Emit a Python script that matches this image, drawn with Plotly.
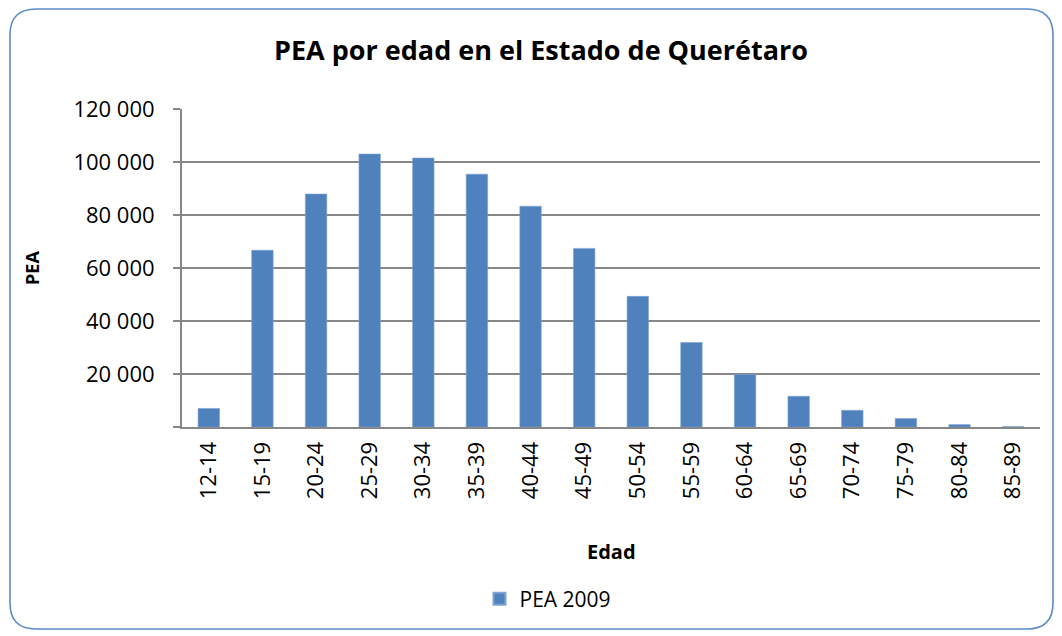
import plotly.graph_objects as go

# Datos
edades = ['12-14', '15-19', '20-24', '25-29', '30-34', '35-39', '40-44', '45-49',
          '50-54', '55-59', '60-64', '65-69', '70-74', '75-79', '80-84', '85-89']
pea_2009 = [7000, 66700, 87900, 103000, 101500, 95400, 83300, 67400,
            49300, 31900, 19800, 11600, 6300, 3200, 900, 150]
y_ticks = [0, 20000, 40000, 60000, 80000, 100000, 120000]
y_labels = ['', '20 000', '40 000', '60 000', '80 000', '100 000', '120 000']

W, H = 1062, 636
L, R, T, B = 182, 22, 109, 209
PW, PH = W - L - R, H - T - B


def px(x):
    return (x - L) / PW


def py(y):
    return (H - B - y) / PH


FONT = "'Open Sans', Lato, sans-serif"
BLUE = '#4F81BD'
GRID = '#878787'

fig = go.Figure()
fig.add_trace(go.Bar(
    x=edades,
    y=pea_2009,
    name='PEA 2009',
    marker=dict(color=BLUE, line=dict(color='#7FA3D3', width=0.6)),
))

# marco redondeado estilo Excel
x0, y0, x1, y1, r = 10, 9, 1053, 629, 26
path = (f"M {px(x0 + r)},{py(y0)} L {px(x1 - r)},{py(y0)} "
        f"Q {px(x1)},{py(y0)} {px(x1)},{py(y0 + r)} "
        f"L {px(x1)},{py(y1 - r)} Q {px(x1)},{py(y1)} {px(x1 - r)},{py(y1)} "
        f"L {px(x0 + r)},{py(y1)} Q {px(x0)},{py(y1)} {px(x0)},{py(y1 - r)} "
        f"L {px(x0)},{py(y0 + r)} Q {px(x0)},{py(y0)} {px(x0 + r)},{py(y0)} Z")
fig.add_shape(type='path', path=path, xref='paper', yref='paper',
              line=dict(color='#5B8BC9', width=1.6))

fig.add_annotation(text='<b>PEA por edad en el Estado de Querétaro</b>',
                   x=px(541), y=py(50), xref='paper', yref='paper',
                   xanchor='center', yanchor='middle',
                   showarrow=False, font=dict(size=27, color='#000000', family=FONT))
fig.add_annotation(text='<b>PEA</b>', textangle=-90,
                   x=px(32), y=py(268), xref='paper', yref='paper',
                   xanchor='center', yanchor='middle',
                   showarrow=False, font=dict(size=18, color='#000000', family=FONT))
fig.add_annotation(text='<b>Edad</b>',
                   x=px(611), y=py(551), xref='paper', yref='paper',
                   xanchor='center', yanchor='middle',
                   showarrow=False, font=dict(size=20, color='#000000', family=FONT))

fig.update_layout(
    width=W, height=H,
    margin=dict(l=L, r=R, t=T, b=B),
    paper_bgcolor='white',
    plot_bgcolor='white',
    separators=', ',
    bargap=0.6,
    font=dict(family=FONT, color='#000000'),
    showlegend=True,
    legend=dict(orientation='h', x=px(548), xanchor='center', y=py(599), yanchor='middle',
                font=dict(size=21, family=FONT), itemsizing='constant'),
    xaxis=dict(
        tickangle=-90,
        tickfont=dict(size=22, family=FONT),
        showline=True, linecolor=GRID, linewidth=2,
        showgrid=False, ticks='', ticklen=0,
        ticklabelstandoff=4,
    ),
    yaxis=dict(
        range=[0, 120000],
        tickvals=y_ticks,
        ticktext=y_labels,
        tickfont=dict(size=22, family=FONT),
        showline=True, linecolor=GRID, linewidth=2,
        showgrid=True, gridcolor=GRID, gridwidth=1.5,
        ticks='outside', ticklen=7, tickcolor=GRID, tickwidth=1.5,
        ticklabelstandoff=14,
        zeroline=False,
    ),
)

fig.write_html("out.html", config={'displayModeBar': False},
               post_script="document.body.style.margin='0';")
